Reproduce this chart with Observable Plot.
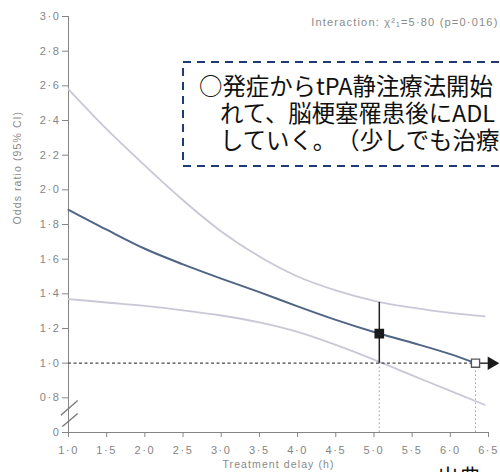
<!DOCTYPE html>
<html>
<head>
<meta charset="utf-8">
<script src="https://cdn.jsdelivr.net/npm/d3@7"></script>
<script src="https://cdn.jsdelivr.net/npm/@observablehq/plot@0.6"></script>
<style>
  html, body { margin: 0; padding: 0; background: #fff; }
  #wrap { position: relative; width: 500px; height: 472px; overflow: hidden; background: #fff; }
  #chart { position: absolute; left: 0; top: 0; }
  #boxframe { position: absolute; left: 0; top: 0; pointer-events: none; }
  #note { position: absolute; left: 199px; top: 72px; font-family: "Noto Sans CJK JP", sans-serif;
          font-size: 23.4px; color: #111; white-space: nowrap; text-spacing-trim: space-all; }
  #note div { height: 27px; line-height: 27px; }
  #note div.cont { padding-left: 21px; }
  #source { position: absolute; left: 437px; top: 464px; font-family: "Noto Sans CJK JP", sans-serif;
            font-size: 22px; line-height: 22px; color: #111; white-space: nowrap; }
</style>
</head>
<body>
<div id="wrap">
  <div id="chart"></div>
  <svg id="boxframe" width="500" height="472">
    <rect x="183" y="62" width="400" height="104" fill="#fff" stroke="#1f3b74" stroke-width="2" stroke-dasharray="8,6"></rect>
  </svg>
  <div id="note"></div>
  <div id="source"></div>
</div>
<script>
// ---- data ----
const xTicks = [1.0, 1.5, 2.0, 2.5, 3.0, 3.5, 4.0, 4.5, 5.0, 5.5, 6.0, 6.5];
const xTickLabels = ["1·0","1·5","2·0","2·5","3·0","3·5","4·0","4·5","5·0","5·5","6·0","6·5"];
const yTicks = [0.6, 0.8, 1.0, 1.2, 1.4, 1.6, 1.8, 2.0, 2.2, 2.4, 2.6, 2.8, 3.0];
const yTickLabels = ["0","0·8","1·0","1·2","1·4","1·6","1·8","2·0","2·2","2·4","2·6","2·8","3·0"];

const delay   = [1.0, 1.5, 2.0, 2.5, 3.0, 3.5, 4.0, 4.5, 5.0, 5.5, 6.0];
const oddsMid = [1.885, 1.77, 1.66, 1.57, 1.488, 1.41, 1.328, 1.25, 1.18, 1.118, 1.052];
const ciDelay = [1.0, 1.5, 2.0, 2.5, 3.0, 3.5, 4.0, 4.5, 5.0, 5.5, 6.0, 6.45];
const oddsUpper = [2.58, 2.35, 2.14, 1.94, 1.76, 1.615, 1.50, 1.42, 1.36, 1.32, 1.29, 1.27];
const oddsLower = [1.37, 1.35, 1.33, 1.305, 1.275, 1.235, 1.18, 1.105, 1.02, 0.93, 0.84, 0.76];

const sigEndDelay = 5.07;       // last delay with significant benefit
const sigEndOdds = 1.17;
const sigEndUpper = 1.35;
const noBenefitDelay = 6.33;    // delay at which OR reaches 1
const referenceOdds = 1.0;
const axisFloor = 0.6;          // displayed as "0" after the axis break
const arrowTipDelay = 6.54;
const axisBreak = [
  {x1: 0.9, y1: 0.70, x2: 1.12, y2: 0.785},
  {x1: 0.92, y1: 0.635, x2: 1.12, y2: 0.71}
];

const xLabel = "Treatment delay (h)";
const yLabel = "Odds ratio (95% CI)";
const interactionLabel = "Interaction: χ²₁=5·80 (p=0·016)";
const noteLines = ["○発症からtPA静注療法開始", "れて、脳梗塞罹患後にADL", "していく。（少しでも治療"];
const sourceText = "出典";

const mid = delay.map((d, i) => ({x: d, y: oddsMid[i]})).concat([{x: noBenefitDelay, y: referenceOdds}]);
const upper = ciDelay.map((d, i) => ({x: d, y: oddsUpper[i]}));
const lower = ciDelay.map((d, i) => ({x: d, y: oddsLower[i]}));

const chart = Plot.plot({
  width: 500,
  height: 472,
  marginLeft: 68,
  marginRight: 12,
  marginTop: 16,
  marginBottom: 40,
  style: {fontFamily: "Liberation Sans, Arial, sans-serif", fontSize: "11px", color: "#858585", background: "transparent", overflow: "visible"},
  x: {domain: [1, 6.5], ticks: xTicks, tickFormat: d => xTickLabels[xTicks.indexOf(d)], tickSize: 5, tickPadding: 9, label: null, line: true},
  y: {domain: [0.6, 3.0], ticks: yTicks, tickFormat: d => yTickLabels[yTicks.indexOf(d)], tickSize: 6, tickPadding: 2, label: null, line: true},
  marks: [
    Plot.line(upper, {x: "x", y: "y", stroke: "#c8c8d6", strokeWidth: 1.8, curve: "monotone-x"}),
    Plot.line(lower, {x: "x", y: "y", stroke: "#c8c8d6", strokeWidth: 1.8, curve: "monotone-x"}),
    Plot.ruleX([sigEndDelay, noBenefitDelay], {y1: axisFloor, y2: referenceOdds, stroke: "#9a9a9a", strokeWidth: 0.9, strokeDasharray: "1.5,2.5"}),
    Plot.ruleY([referenceOdds], {x1: 1, x2: noBenefitDelay, stroke: "#4a4a4a", strokeWidth: 1.1, strokeDasharray: "3,2.5"}),
    Plot.line(mid, {x: "x", y: "y", stroke: "#4f6585", strokeWidth: 2, curve: "monotone-x"}),
    Plot.ruleX([sigEndDelay], {y1: referenceOdds, y2: sigEndUpper, stroke: "#222", strokeWidth: 1.5}),
    Plot.dot([{x: sigEndDelay, y: sigEndOdds}], {x: "x", y: "y", symbol: "square", r: 4.6, fill: "#1a1a1a", stroke: "#1a1a1a"}),
    Plot.link([{x1: noBenefitDelay, x2: arrowTipDelay}], {x1: "x1", x2: "x2", y1: () => referenceOdds, y2: () => referenceOdds, stroke: "#222", strokeWidth: 1.4}),
    Plot.dot([{x: noBenefitDelay, y: referenceOdds}], {x: "x", y: "y", symbol: "square", r: 4.6, fill: "#fff", stroke: "#555", strokeWidth: 1.3}),
    Plot.dot([{x: arrowTipDelay, y: referenceOdds}], {x: "x", y: "y", symbol: "triangle", r: 5, rotate: 90, fill: "#1a1a1a", stroke: "none"}),
    Plot.link(axisBreak, {x1: "x1", y1: "y1", x2: "x2", y2: "y2", stroke: "#777", strokeWidth: 1.3, clip: false}),
    Plot.text([interactionLabel], {frameAnchor: "top-right", text: d => d, dx: 10, dy: 2, fontSize: 11, fill: "#8a8a8a"}),
    Plot.text([xLabel], {frameAnchor: "bottom", text: d => d, dy: 35, fontSize: 10.5, fill: "#8a8a8a"}),
    Plot.text([yLabel], {frameAnchor: "left", text: d => d, rotate: -90, dx: -51, fontSize: 10.5, fill: "#8a8a8a"})
  ]
});
document.getElementById("chart").appendChild(chart);

// widen letter spacing like the reference typography
d3.select(chart).selectAll("text").each(function () {
  const t = this.textContent;
  if (xTickLabels.includes(t) || yTickLabels.includes(t)) this.style.letterSpacing = "1.6px";
  else if (t === interactionLabel) this.style.letterSpacing = "1.2px";
  else if (t === xLabel || t === yLabel) this.style.letterSpacing = "1.1px";
});

const note = document.getElementById("note");
noteLines.forEach((s, i) => {
  const div = document.createElement("div");
  div.textContent = s;
  if (i > 0) div.className = "cont";
  note.appendChild(div);
});
document.getElementById("source").textContent = sourceText;
</script>
</body>
</html>
